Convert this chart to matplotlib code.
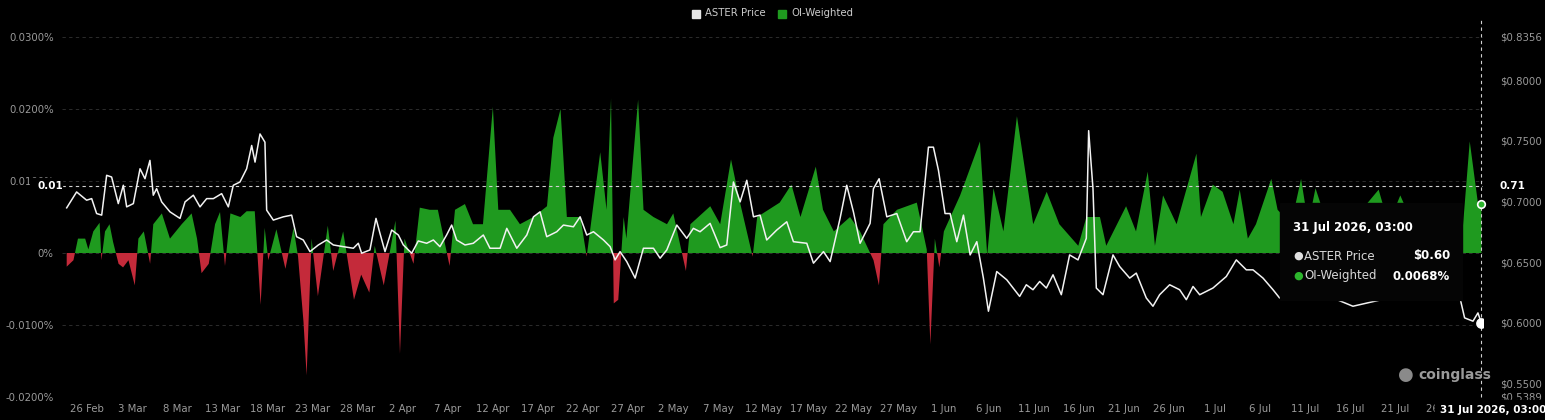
import matplotlib
matplotlib.use("Agg")
import matplotlib.pyplot as plt
from matplotlib.patches import Rectangle
import numpy as np

# ---- data (day 0 = 26 Feb) ----
fund_days = [-2.25,-1.5,-1.0,-0.2,0.15,0.7,1.4,1.6,2.0,2.5,2.9,3.5,4.0,4.6,5.3,5.7,6.3,7.0,7.35,8.3,9.2,10.5,11.6,12.2,12.7,
             13.5,14.2,14.75,15.3,15.9,17.0,17.7,18.6,19.25,19.7,20.1,21.0,22.0,22.9,23.4,24.0,24.35,24.9,25.6,26.7,27.3,
             28.4,29.6,30.4,31.3,31.9,32.9,34.2,34.7,35.2,36.2,36.9,38.0,38.9,40.2,40.8,41.9,42.8,43.9,45.0,45.6,
             46.9,48.0,49.5,51.0,51.7,52.5,53.2,54.7,55.4,56.9,57.6,58.1,58.4,58.9,59.5,59.8,61.1,61.7,62.8,64.3,65.0,
             66.4,66.9,69.1,70.2,71.4,72.4,73.8,74.3,76.8,78.1,79.1,80.8,81.6,82.8,84.6,85.7,87.2,87.8,88.3,89.8,92.0,
             93.1,93.5,94.0,94.5,95.0,96.8,99.0,99.8,100.5,101.6,103.1,104.9,106.4,107.8,109.9,110.8,112.3,113.0,115.2,
             116.3,117.6,118.4,119.3,120.8,123.0,123.5,124.8,125.9,127.1,127.8,128.7,129.6,131.3,132.0,133.5,134.6,135.4,
             136.2,137.5,140.0,143.2,144.3,145.6,147.0,150.0,152.5,153.3,154.2,154.6]
funding = [-0.0019,-0.001,0.002,0.002,0.0005,0.003,0.0042,-0.001,0.003,0.004,0.0015,-0.0015,-0.002,-0.001,-0.0045,0.002,
           0.003,-0.0015,0.004,0.0055,0.002,0.004,0.0055,0.002,-0.0028,-0.0015,0.004,0.0057,-0.0018,0.0055,0.005,0.0058,
           0.0058,-0.0072,0.0035,-0.001,0.0033,-0.0022,0.0035,-0.0005,-0.0095,-0.017,0.002,-0.006,0.0038,-0.0025,0.003,
           -0.0065,-0.003,-0.0055,0.001,-0.0045,0.0045,-0.014,0.002,-0.0015,0.0063,0.006,0.006,-0.0018,0.006,0.0068,
           0.004,0.004,0.0203,0.006,0.006,0.004,0.005,0.0065,0.016,0.020,0.005,0.005,-0.0005,0.014,0.006,0.0215,-0.007,
           -0.0065,0.005,0.002,0.0213,0.006,0.005,0.004,0.0055,-0.0025,0.004,0.0065,0.004,0.013,0.007,-0.0005,0.005,
           0.007,0.0095,0.005,0.012,0.006,0.003,0.005,0.003,-0.001,-0.0045,0.004,0.006,0.007,0.0005,-0.0127,0.002,-0.002,
           0.003,0.008,0.0155,-0.0003,0.009,0.003,0.019,0.004,0.0085,0.004,0.001,0.005,0.005,0.001,0.0065,0.003,0.0113,
           0.001,0.008,0.004,0.0138,0.005,0.0095,0.0085,0.004,0.0088,0.002,0.004,0.0103,0.006,0.004,0.0103,0.004,0.009,
           0.004,0.004,0.0088,0.004,0.008,0.004,0.004,0.003,0.0155,0.007,0.0068]

price_days = [-2.25,-1.15,-0.04,0.52,1.07,1.63,2.18,2.73,3.47,4.03,4.40,5.14,5.88,6.43,6.98,7.35,7.72,8.28,9.20,10.31,
              10.87,11.79,12.53,13.27,14.01,14.93,15.67,16.22,16.96,17.70,18.26,18.63,19.18,19.73,19.92,20.66,21.77,
              22.69,23.24,23.98,24.72,25.65,26.57,27.31,28.42,29.53,30.08,30.45,31.37,32.04,32.48,33.04,33.78,34.52,
              35.07,36.00,36.73,37.66,38.40,39.13,39.87,40.43,40.98,41.91,42.83,43.94,44.68,45.8,46.54,47.65,48.76,
              49.5,50.23,50.97,52.08,52.82,53.93,54.67,55.41,56.15,57.26,58.0,58.55,59.1,59.84,60.77,61.69,62.8,63.54,
              64.28,65.39,66.49,67.23,67.97,69.08,70.19,70.93,71.67,72.41,73.15,73.89,74.62,75.36,76.47,77.58,78.32,
              79.8,80.54,81.65,82.39,83.49,84.23,84.97,85.71,86.82,87.19,87.82,88.67,89.78,90.88,91.62,92.36,93.29,
              93.84,94.4,95.13,95.69,96.43,97.17,97.91,98.65,99.38,99.94,100.86,101.97,103.4,104.14,104.88,105.62,
              106.36,107.1,108.02,108.94,109.87,110.79,111.05,111.53,111.9,112.64,113.75,114.49,115.6,116.33,117.44,
              118.18,118.92,120.03,121.14,121.88,122.62,123.36,124.83,126.31,127.42,128.53,129.27,130.38,131.49,
              132.22,136.66,140.35,144.05,147.75,151.44,152.18,152.73,153.66,154.21,154.58]
price = [0.6948,0.7079,0.7011,0.7024,0.6901,0.6888,0.7216,0.7202,0.6983,0.7134,0.6956,0.6983,0.7270,0.7188,0.7339,0.7052,
         0.7106,0.6997,0.6915,0.6861,0.6997,0.7052,0.6956,0.7024,0.7024,0.7065,0.6956,0.7134,0.7161,0.7270,0.7462,
         0.7325,0.7557,0.7489,0.6929,0.6847,0.6874,0.6888,0.6710,0.6683,0.6587,0.6642,0.6683,0.6642,0.6628,0.6615,
         0.6656,0.6574,0.6601,0.6861,0.6738,0.6587,0.6765,0.6724,0.6642,0.6574,0.6675,0.6656,0.6683,0.6628,0.6724,
         0.6806,0.6683,0.6642,0.6656,0.6724,0.6615,0.6615,0.6779,0.6615,0.6724,0.6874,0.6915,0.6710,0.6751,0.6806,
         0.6792,0.6874,0.6724,0.6751,0.6683,0.6628,0.6519,0.6587,0.6505,0.6369,0.6615,0.6615,0.6533,0.6601,0.6806,
         0.6697,0.6779,0.6751,0.6820,0.6620,0.6642,0.7161,0.6997,0.7175,0.6874,0.6888,0.6683,0.6765,0.6833,0.6669,
         0.6656,0.6492,0.6587,0.6505,0.6861,0.7134,0.6915,0.6656,0.6820,0.7106,0.7188,0.6874,0.6901,0.6669,0.6751,
         0.6751,0.7448,0.7448,0.7257,0.6901,0.6901,0.6669,0.6888,0.6560,0.6669,0.6369,0.6096,0.6423,0.6355,0.6218,
         0.6314,0.6273,0.6341,0.6287,0.6396,0.6232,0.6560,0.6519,0.6697,0.7584,0.7106,0.6287,0.6232,0.6560,0.6464,
         0.6369,0.6410,0.6205,0.6137,0.6232,0.6314,0.6273,0.6191,0.6300,0.6232,0.6287,0.6382,0.6519,0.6437,0.6437,
         0.6369,0.6273,0.6205,0.6250,0.6137,0.6200,0.6200,0.6230,0.6218,0.6041,0.6014,0.6082,0.6000]

tick_days = list(range(0, 151, 5))
tick_labels = ["26 Feb","3 Mar","8 Mar","13 Mar","18 Mar","23 Mar","28 Mar","2 Apr","7 Apr","12 Apr","17 Apr",
               "22 Apr","27 Apr","2 May","7 May","12 May","17 May","22 May","27 May","1 Jun","6 Jun","11 Jun",
               "16 Jun","21 Jun","26 Jun","1 Jul","6 Jul","11 Jul","16 Jul","21 Jul","26 Jul"]
left_ticks = [-0.02,-0.01,0.0,0.01,0.02,0.03]
left_labels = ["-0.0200%","-0.0100%","0%","0.0100%","0.0200%","0.0300%"]
right_ticks = [0.5389,0.55,0.60,0.65,0.70,0.75,0.80,0.8356]
right_labels = ["$0.5389","$0.5500","$0.6000","$0.6500","$0.7000","$0.7500","$0.8000","$0.8356"]

GREEN = "#1f9a1f"
RED = "#c42a3a"
W, H = 1545, 420
fig = plt.figure(figsize=(W/100, H/100), dpi=100, facecolor="#000000")
ax = fig.add_axes([62/W, 23/H, (1483-62)/W, 360/H], facecolor="#000000")
ax.set_xlim(-2.77, 154.77)
ax.set_ylim(-0.02, 0.03)
for s in ax.spines.values():
    s.set_visible(False)
ax.set_yticks(left_ticks)
ax.set_yticklabels(left_labels, color="#9a9a9a", fontsize=7.3)
ax.set_xticks(tick_days)
ax.set_xticklabels(tick_labels, color="#9a9a9a", fontsize=7.3)
ax.tick_params(length=0, pad=5)
ax.tick_params(axis="y", pad=6)
for t in left_ticks:
    ax.axhline(t, color="#333333", lw=0.6, ls=(0, (4, 4)), zorder=0)

fd = np.array(fund_days); fv = np.array(funding)
ax.fill_between(fd, 0, fv, where=fv >= 0, interpolate=True, color=GREEN, lw=0, zorder=1)
ax.fill_between(fd, 0, fv, where=fv <= 0, interpolate=True, color=RED, lw=0, zorder=1)

ax2 = ax.twinx()
ax2.set_ylim(0.5389, 0.8356)
for s in ax2.spines.values():
    s.set_visible(False)
ax2.set_yticks(right_ticks)
ax2.set_yticklabels(right_labels, color="#9a9a9a", fontsize=7.3)
ax2.tick_params(length=0, pad=12)
ax2.plot(price_days, price, color="#f2f2f2", lw=1.1, zorder=3)
ax2.scatter([price_days[-1]], [price[-1]], s=45, color="white", zorder=5)
ax.scatter([fund_days[-1]], [funding[-1]], s=30, color="#2db52d", edgecolor="white", lw=1.2, zorder=5, clip_on=False)

# crosshair
ax.axhline(0.0093, color="#d0d0d0", lw=0.8, ls=(0, (3, 3)), zorder=4)
ax.axvline(154.6, color="#d0d0d0", lw=0.8, ls=(0, (3, 3)), zorder=4, ymax=1.05, clip_on=False)
fig.add_artist(Rectangle((30/W, 1-194/H), 32/W, 16/H, transform=fig.transFigure, color="#000000", zorder=3))
fig.text(37/W, 1-186/H, "0.01", color="white", fontsize=7.5, fontweight="bold", va="center")
fig.text(1500/W, 1-186/H, "0.71", color="white", fontsize=7.5, fontweight="bold", va="center", zorder=4)
fig.add_artist(Rectangle((1435/W, 0), 110/W, 20/H, transform=fig.transFigure, color="#000000", zorder=3))
fig.text(1440/W, 1-410/H, "31 Jul 2026, 03:00", color="white", fontsize=7.5, fontweight="bold", va="center", zorder=4)

# tooltip
fig.add_artist(Rectangle((1280/W, 1-300/H), 182/W, 97/H, transform=fig.transFigure, color="#050505", zorder=3))
fig.text(1293/W, 1-228/H, "31 Jul 2026, 03:00", color="white", fontsize=8.5, fontweight="bold", va="center", zorder=4)
fig.text(1293/W, 1-256/H, "●", color="#e0e0e0", fontsize=8, va="center", zorder=4)
fig.text(1304/W, 1-256/H, "ASTER Price", color="#d8d8d8", fontsize=8.5, va="center", zorder=4)
fig.text(1450/W, 1-256/H, "$0.60", color="white", fontsize=8.5, fontweight="bold", va="center", ha="right", zorder=4)
fig.text(1293/W, 1-276/H, "●", color="#2db52d", fontsize=8, va="center", zorder=4)
fig.text(1304/W, 1-276/H, "OI-Weighted", color="#d8d8d8", fontsize=8.5, va="center", zorder=4)
fig.text(1450/W, 1-276/H, "0.0068%", color="white", fontsize=8.5, fontweight="bold", va="center", ha="right", zorder=4)

# watermark
fig.text(1398/W, 1-375/H, "●", color="#8a8a8a", fontsize=13, va="center", zorder=4)
fig.text(1418/W, 1-375/H, "coinglass", color="#9a9a9a", fontsize=10, fontweight="bold", va="center", zorder=4)

# legend
fig.add_artist(Rectangle((692/W, 1-18/H), 8/W, 8/H, transform=fig.transFigure, color="#e6e6e6", zorder=3))
fig.text(705/W, 1-13/H, "ASTER Price", color="#cccccc", fontsize=7.3, va="center")
fig.add_artist(Rectangle((778/W, 1-18/H), 8/W, 8/H, transform=fig.transFigure, color=GREEN, zorder=3))
fig.text(791/W, 1-13/H, "OI-Weighted", color="#cccccc", fontsize=7.3, va="center")

fig.savefig("out.png", dpi=100, facecolor=fig.get_facecolor())
